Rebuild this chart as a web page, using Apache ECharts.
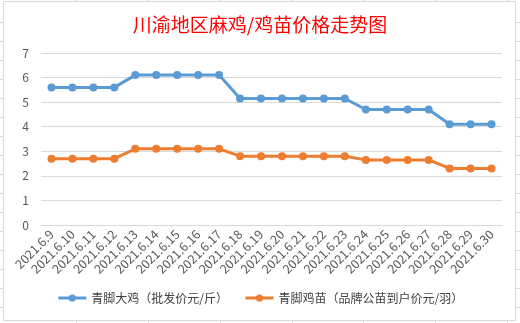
<!DOCTYPE html>
<html><head><meta charset="utf-8">
<script src="https://cdn.jsdelivr.net/npm/echarts@6/dist/echarts.min.js"></script>
<style>html,body{margin:0;padding:0;background:#fff}#c{width:520px;height:323px}</style>
</head><body><div id="c"></div>
<script>
const categories = ['2021.6.9','2021.6.10','2021.6.11','2021.6.12','2021.6.13','2021.6.14','2021.6.15','2021.6.16','2021.6.17','2021.6.18','2021.6.19','2021.6.20','2021.6.21','2021.6.22','2021.6.23','2021.6.24','2021.6.25','2021.6.26','2021.6.27','2021.6.28','2021.6.29','2021.6.30'];
const adultChicken = [5.6,5.6,5.6,5.6,6.1,6.1,6.1,6.1,6.1,5.15,5.15,5.15,5.15,5.15,5.15,4.7,4.7,4.7,4.7,4.1,4.1,4.1];
const chicks = [2.7,2.7,2.7,2.7,3.1,3.1,3.1,3.1,3.1,2.8,2.8,2.8,2.8,2.8,2.8,2.65,2.65,2.65,2.65,2.3,2.3,2.3];
const seriesNames = ['青脚大鸡（批发价元/斤）','青脚鸡苗（品牌公苗到户价元/羽）'];
const yTicks = {min:0, max:7, interval:1};

const font = '"Noto Sans CJK SC", "Microsoft YaHei", sans-serif';
const chart = echarts.init(document.getElementById('c'));
const deco = [];
const lc = '#D9D9D9';
deco.push({type:'rect', shape:{x:3.5,y:1.5,width:512,height:319}, style:{fill:null, stroke:lc, lineWidth:1}, z:-1});
[76,148,220,292,363,435,507].forEach(x=>{
  deco.push({type:'line', shape:{x1:x+0.5,y1:0,x2:x+0.5,y2:1.5}, style:{stroke:lc,lineWidth:1}});
  deco.push({type:'line', shape:{x1:x+0.5,y1:320.5,x2:x+0.5,y2:323}, style:{stroke:lc,lineWidth:1}});
});
for(let k=1;k<=16;k++){
  const y=3+19*k+0.5;
  deco.push({type:'line', shape:{x1:0,y1:y,x2:3.5,y2:y}, style:{stroke:lc,lineWidth:1}});
  deco.push({type:'line', shape:{x1:515.5,y1:y,x2:520,y2:y}, style:{stroke:lc,lineWidth:1}});
}
chart.setOption({
  backgroundColor:'#fff',
  animation:false,
  title:{text:'川渝地区麻鸡/鸡苗价格走势图', left:'center', top:10, textStyle:{color:'#FF0000', fontSize:19, fontWeight:'normal', fontFamily:font}},
  graphic: deco,
  legend:{bottom:14, left:'center', itemWidth:28, itemHeight:9, itemGap:16, textStyle:{fontSize:12, color:'#404040', fontFamily:font},
    lineStyle:{width:3}, data: seriesNames},
  grid:{left:41, right:18, top:53, bottom:98},
  xAxis:{type:'category', data:categories, boundaryGap:true,
    axisLine:{lineStyle:{color:'#D9D9D9'}}, axisTick:{show:false},
    axisLabel:{rotate:45, fontSize:12.5, color:'#595959', fontFamily:font, interval:0, margin:7}},
  yAxis:{type:'value', min:yTicks.min, max:yTicks.max, interval:yTicks.interval,
    axisLine:{show:false}, axisTick:{show:false},
    splitLine:{lineStyle:{color:'#D9D9D9'}},
    axisLabel:{fontSize:12, color:'#595959', fontFamily:font, margin:12}},
  series:[
    {name:seriesNames[0], type:'line', data:adultChicken, symbol:'circle', symbolSize:8,
      lineStyle:{width:3, color:'#5B9BD5'}, itemStyle:{color:'#5B9BD5'}},
    {name:seriesNames[1], type:'line', data:chicks, symbol:'circle', symbolSize:8,
      lineStyle:{width:3, color:'#ED7D31'}, itemStyle:{color:'#ED7D31'}}
  ]
});
</script></body></html>
